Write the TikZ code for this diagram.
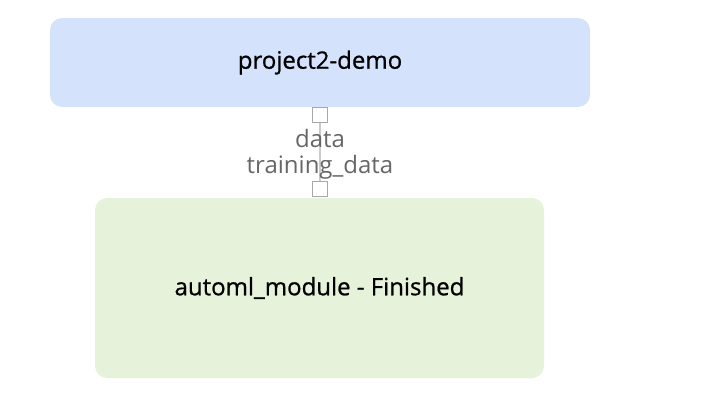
\documentclass[tikz,border=0pt]{standalone}
\usepackage{fontspec}
\setmainfont{Open Sans}
\newfontfamily\jobfont[FakeBold=0.8]{Open Sans}
\usetikzlibrary{positioning}

\definecolor{jobblue}{HTML}{D5E2FC}
\definecolor{jobgreen}{HTML}{E6F2D9}
\definecolor{portgray}{HTML}{A8A8A8}
\definecolor{labelgray}{HTML}{666666}

\tikzset{
  jobbox/.style={rounded corners=12pt, inner sep=0pt, font=\jobfont\fontsize{24}{28}\selectfont},
  portbox/.style={draw=portgray, line width=1.2pt, fill=white, minimum size=15pt, inner sep=0pt},
  portlabel/.style={text=labelgray, font=\fontsize{24}{28}\selectfont, inner sep=0pt}
}

\begin{document}
\begin{tikzpicture}[x=1pt,y=-1pt]
          \useasboundingbox (0,0) rectangle (702,415);
          % pipeline jobs
          \node[jobbox, fill=jobblue, minimum width=540pt, minimum height=89pt] (demo) at (320,62.5) {project2-demo};
          \node[jobbox, fill=jobgreen, minimum width=449pt, minimum height=180pt] (automl) at (319.5,288) {automl\_module - Finished};
          % ports and link
          \node[portbox, anchor=north] (outport) at (demo.south) {};
          \node[portbox, anchor=south] (inport) at (320,197) {};
          \draw[portgray!60, line width=1.2pt] (outport) -- (inport);
          \node[portlabel] (outname) at (320,138) {data};
          \node[portlabel] (inname) at (320,167) {training\_data};
        \end{tikzpicture}
\end{document}
